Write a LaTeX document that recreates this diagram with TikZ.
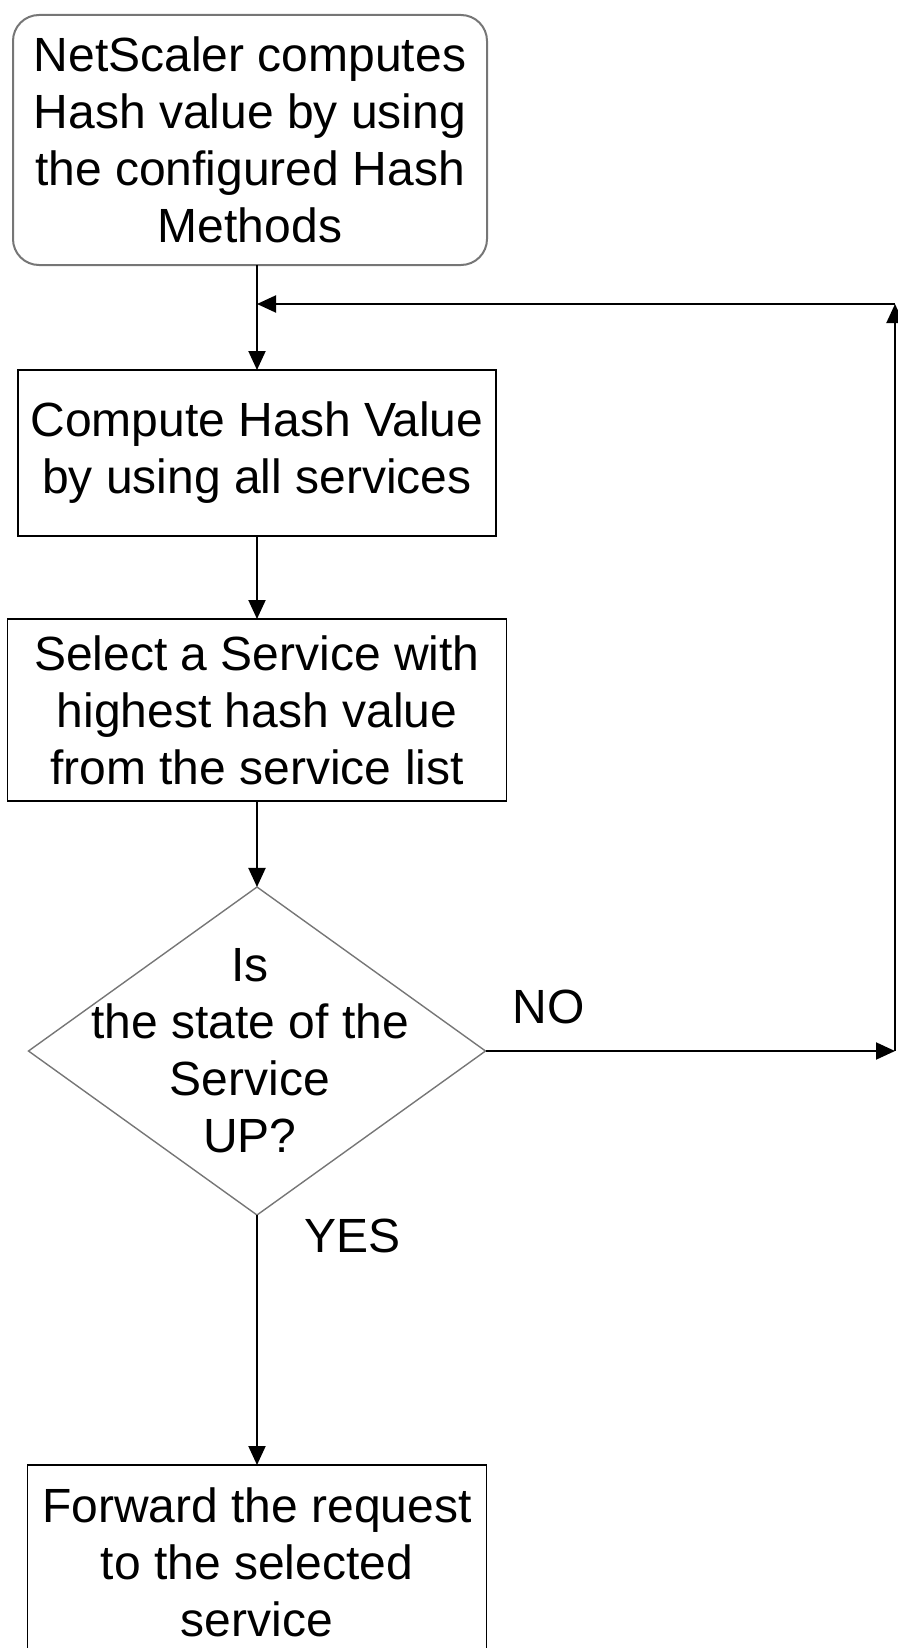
\documentclass[tikz,border=0pt]{standalone}
\usepackage{fontspec}
\setmainfont{Liberation Sans}
\usetikzlibrary{positioning,arrows.meta,shapes.geometric}
\definecolor{EdgeGray}{RGB}{118,118,118}
\tikzset{
  flow/.style={-{Triangle[length=19pt,width=17pt]},line width=2pt,draw=black},
  box/.style={draw=black,line width=1.6pt,inner sep=0pt,outer sep=0pt,align=center,
    font=\fontsize{48pt}{57pt}\selectfont},
  startbox/.style={box,draw=EdgeGray,line width=2pt,rounded corners=26pt},
  decision/.style={diamond,draw=EdgeGray,line width=1.4pt,inner sep=0pt,outer sep=0pt},
  tag/.style={inner sep=0pt,align=center,font=\fontsize{48pt}{57pt}\selectfont}
}
\begin{document}
\begin{tikzpicture}[x=1pt,y=-1pt]
  \useasboundingbox (0,0) rectangle (897,1648);
  \node[startbox,minimum width=474pt,minimum height=250pt] (netscaler) at (250,140)
    {NetScaler computes\\Hash value by using\\the configured Hash\\Methods};
  \node[box,below=105pt of netscaler,xshift=7pt,minimum width=478pt,minimum height=166pt] (compute)
    {Compute Hash Value\\by using all services};
  \node[box,below=83pt of compute,minimum width=499pt,minimum height=182pt] (select)
    {Select a Service with\\highest hash value\\from the service list};
  \node[decision,below=86pt of select,minimum width=457pt,minimum height=328pt] (state) {};
  \node[tag,xshift=-7pt] (statetext) at (state.center) {Is\\the state of the\\Service\\UP?};
  \node[box,below=250pt of state,minimum width=459pt,minimum height=194pt] (forward)
    {Forward the request\\to the selected\\service};
  % loop back on the right
  \coordinate[above=66pt of compute.north] (merge);
  \coordinate (noend) at (state.east -| 895,0);
  \coordinate (loopend) at (merge -| noend);
  \draw[flow] (netscaler.south -| compute.north) -- (compute.north);
  \draw[flow] (compute) -- (select);
  \draw[flow] (select) -- (state);
  \draw[flow] (state) -- node[tag,pos=0.084,anchor=west,xshift=46pt] (yes) {YES} (forward);
  \draw[flow] (state.east) -- node[tag,pos=0.154,anchor=south,yshift=26pt] (no) {NO} (noend);
  \draw[flow] (noend) -- (loopend);
  \draw[flow] (loopend) -- (merge);
\end{tikzpicture}
\end{document}
